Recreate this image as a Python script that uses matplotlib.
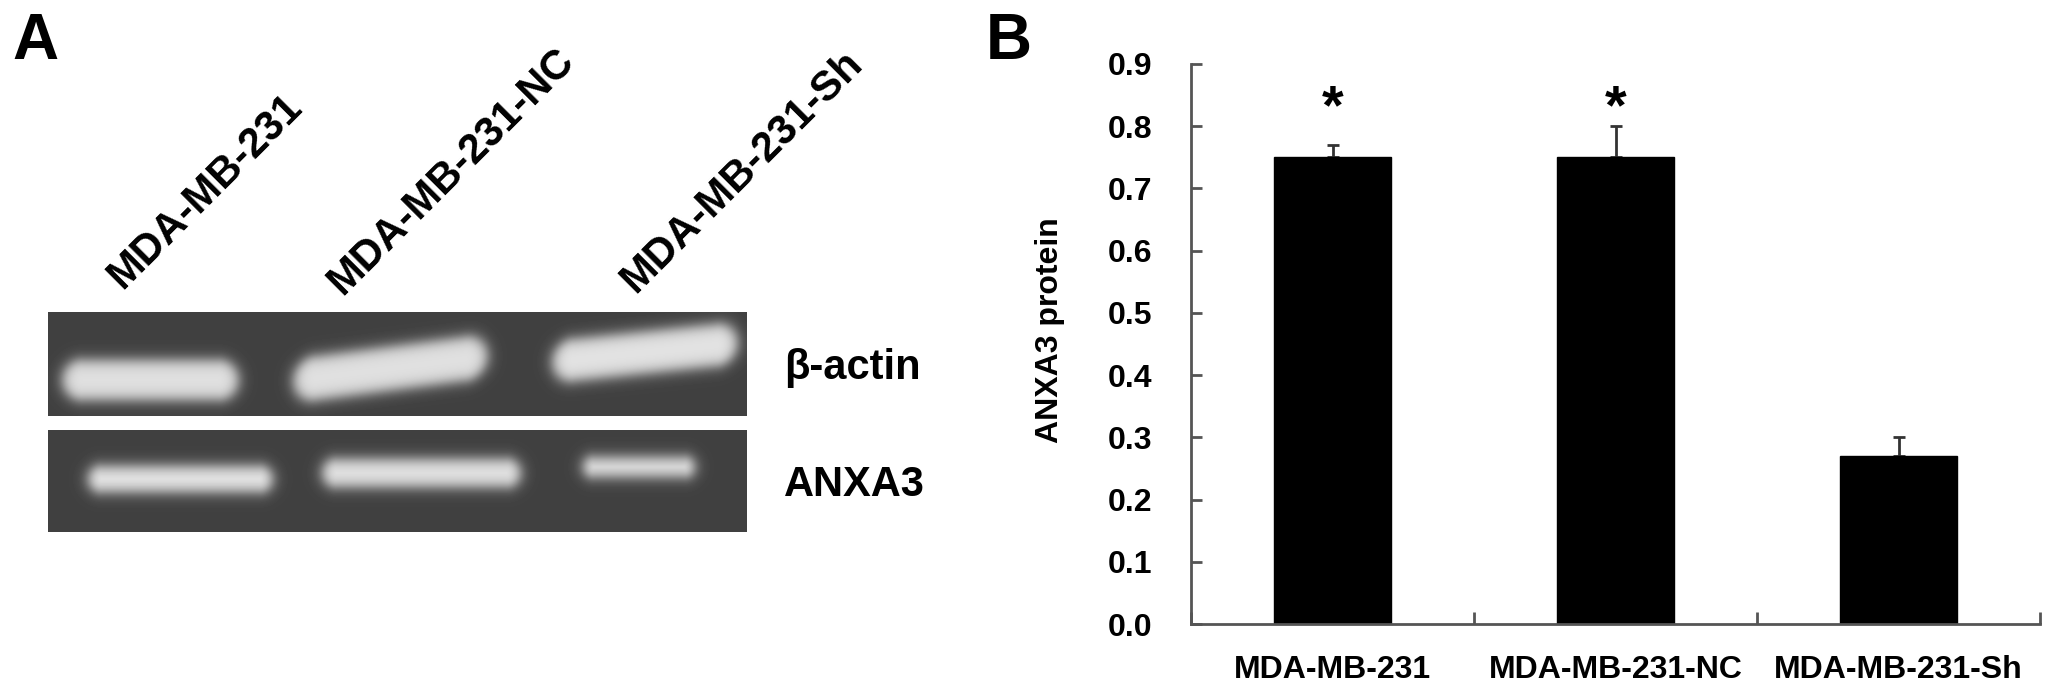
import numpy as np
import matplotlib
matplotlib.use("Agg")
from matplotlib import pyplot as plt

plt.rcParams['font.family'] = ['Liberation Sans', 'DejaVu Sans']
plt.rcParams['font.weight'] = 'bold'

# panel B data
groups = ["MDA-MB-231", "MDA-MB-231-NC", "MDA-MB-231-Sh"]
anxa3 = [0.75, 0.75, 0.27]
anxa3_err = [0.02, 0.05, 0.03]
starred = [True, True, False]

# panel A blot (pixel coords of the figure): band x-range, centre y at left/right end, half height
rows = ["β-actin", "ANXA3"]
gel_boxes = [(48, 747, 312, 416), (48, 747, 430, 532)]
band_x0 = [[63, 294, 553], [89, 323, 584]]
band_x1 = [[238, 487, 737], [272, 520, 694]]
band_yl = [[380, 381, 362], [479, 473, 467]]
band_yr = [[380, 356, 343], [479, 473, 467]]
band_hh = [[20, 22, 21], [13, 14, 10]]
band_lum = [[0.88, 0.88, 0.89], [0.90, 0.89, 0.88]]

W, H = 2056, 689
fig = plt.figure(figsize=(W / 100, H / 100), dpi=100)

# ---- panel A ----
axA = fig.add_axes([0, 0, 1, 1])
axA.set_xlim(0, W)
axA.set_ylim(H, 0)
axA.axis('off')

for r, (gx0, gx1, gy0, gy1) in enumerate(gel_boxes):
    xs = np.arange(gx0, gx1) + 0.5
    ys = np.arange(gy0, gy1) + 0.5
    X, Y = np.meshgrid(xs, ys)
    img = np.full(X.shape, 0.25)
    for i in range(3):
        x0, x1 = band_x0[r][i], band_x1[r][i]
        hh = band_hh[r][i]
        t = np.clip((X - x0) / (x1 - x0), 0, 1)
        yc = band_yl[r][i] + (band_yr[r][i] - band_yl[r][i]) * t
        xc = (x0 + x1) / 2
        dx = np.maximum(np.abs(X - xc) - ((x1 - x0) / 2 - hh), 0)
        dist = np.sqrt(dx ** 2 + (Y - yc) ** 2) - hh
        a = 1 / (1 + np.exp(dist / 4.0))
        img = img + (band_lum[r][i] - img) * a
    axA.imshow(img, cmap='gray', vmin=0, vmax=1, extent=[gx0, gx1, gy1, gy0],
               interpolation='bilinear', aspect='auto')
    axA.text(784, (gy0 + gy1) / 2 + 15, rows[r], fontsize=30, fontweight='bold',
             ha='left', va='baseline')

lane_anchor = [(122, 290), (342, 296), (635, 294)]
for (lx, ly), g in zip(lane_anchor, groups):
    axA.text(lx, ly, g, fontsize=30, fontweight='bold', rotation=45,
             rotation_mode='anchor', ha='left', va='baseline')

fig.text(12 / W, 1 - 59 / H, "A", fontsize=46, fontweight='bold', ha='left', va='baseline')
fig.text(986 / W, 1 - 59 / H, "B", fontsize=46, fontweight='bold', ha='left', va='baseline')

# ---- panel B ----
ax = fig.add_axes([1191 / W, 65 / H, (2040 - 1191) / W, (624 - 64) / H])
pos = np.arange(1, len(groups) + 1)
ax.bar(pos, anxa3, width=0.41, color='black', edgecolor='black', zorder=2)
ax.errorbar(pos, anxa3, yerr=[np.zeros(len(anxa3)), anxa3_err], fmt='none',
            ecolor='#333333', elinewidth=2, capsize=4, capthick=2, zorder=1)
for p, v, e, s in zip(pos, anxa3, anxa3_err, starred):
    if s:
        ax.text(p, 0.805, "*", fontsize=40, fontweight='bold', ha='center', va='baseline')

ax.set_xlim(0.5, 3.5)
ax.set_ylim(0, 0.9)
ax.set_yticks(np.arange(0, 0.91, 0.1))
ax.set_yticklabels(["%.1f" % v for v in np.arange(0, 0.91, 0.1)])
ax.set_xticks([0.5, 1.5, 2.5, 3.5])
ax.set_xticklabels([])
ax.set_xticks(pos, minor=True)
ax.set_xticklabels(groups, minor=True)
ax.tick_params(axis='y', direction='in', length=8, width=2, color='#555555',
               labelsize=23, pad=28)
ax.tick_params(axis='x', which='major', direction='in', length=9, width=2, color='#555555')
ax.tick_params(axis='x', which='minor', length=0, labelsize=23, pad=22)
for lab in ax.get_xticklabels(minor=True) + ax.get_yticklabels():
    lab.set_fontweight('bold')
for side in ['top', 'right']:
    ax.spines[side].set_visible(False)
for side in ['left', 'bottom']:
    ax.spines[side].set_color('#555555')
    ax.spines[side].set_linewidth(2)

fig.text(1050 / W, 1 - 330 / H, "ANXA3 protein", fontsize=23, fontweight='bold',
         rotation=90, ha='center', va='center')

fig.savefig("out.png", dpi=100)
